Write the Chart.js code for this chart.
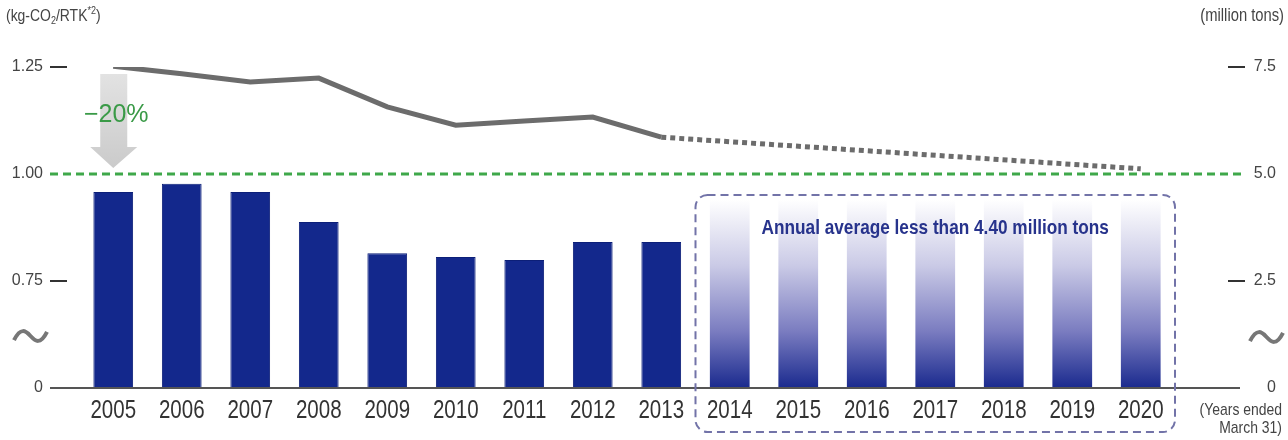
<!DOCTYPE html>
<html>
<head>
<meta charset="utf-8">
<script src="https://cdn.jsdelivr.net/npm/chart.js@4.4.1/dist/chart.umd.min.js"></script>
<style>
  html, body { margin: 0; padding: 0; background: #fff; }
  #wrap { width: 1288px; height: 440px; }
</style>
</head>
<body>
<div id="wrap"><canvas id="myChart" width="1288" height="440"></canvas></div>
<script>
// data
const years = ['2005', '2006', '2007', '2008', '2009', '2010', '2011', '2012', '2013',
               '2014', '2015', '2016', '2017', '2018', '2019', '2020'];
// CO2 emissions, million tons (right axis), years ended March 31
const actualTons = [4.58, 4.77, 4.58, 3.88, 3.15, 3.06, 2.99, 3.41, 3.41];
const targetTons = [4.40, 4.40, 4.40, 4.40, 4.40, 4.40, 4.40];   // 2014-2020
// kg-CO2/RTK (left axis, broken below 0.75)
const intensity = [1.252, 1.234, 1.215, 1.224, 1.157, 1.114, 1.124, 1.133, 1.086];
const intensityGoal2020 = 1.012;
const leftTicks = [0.5, 0.75, 1.0, 1.25];   // 0.5 sits where the broken axis says "0"
const rightTicks = [0, 2.5, 5.0, 7.5];

const NAVY = '#13288c';
const SANS = "'Liberation Sans', Arial, sans-serif";
const SQUEEZE = 0.82;   // the original uses a condensed face

const futureBars = Array(actualTons.length).fill(null).concat(targetTons);
const outlook = Array(years.length).fill(null);
outlook[actualTons.length - 1] = intensity[intensity.length - 1];
outlook[years.length - 1] = intensityGoal2020;

function fadeGradient(context) {
  const chart = context.chart;
  const area = chart.chartArea;
  if (!area) return NAVY;
  const top = chart.scales.yR.getPixelForValue(targetTons[0]);
  const g = chart.ctx.createLinearGradient(0, top, 0, area.bottom);
  g.addColorStop(0, '#ffffff');
  g.addColorStop(0.35, '#cacae6');
  g.addColorStop(0.7, '#7a7cc0');
  g.addColorStop(1, '#1a2a8e');
  return g;
}

function tilde(ctx, x, y, w, h) {
  ctx.beginPath();
  ctx.moveTo(x, y + h * 0.35);
  ctx.bezierCurveTo(x + w * 0.2, y - h * 0.75, x + w * 0.35, y - h * 0.45, x + w * 0.5, y);
  ctx.bezierCurveTo(x + w * 0.65, y + h * 0.45, x + w * 0.8, y + h * 0.75, x + w, y - h * 0.35);
  ctx.stroke();
}

// text in a condensed look: squeeze horizontally round the anchor
function narrowText(ctx, text, x, y) {
  ctx.save();
  ctx.translate(x, y);
  ctx.scale(SQUEEZE, 1);
  ctx.fillText(text, 0, 0);
  ctx.restore();
}

const decor = {
  id: 'decor',
  beforeDatasetsDraw(chart) {
    const { ctx, scales } = chart;
    const x0 = scales.x.getPixelForValue(0);
    const yTop = scales.yL.getPixelForValue(1.25);
    const yOne = scales.yL.getPixelForValue(1.0);
    ctx.save();
    // grey -20% arrow
    const ag = ctx.createLinearGradient(0, yTop, 0, yOne);
    ag.addColorStop(0, '#e4e4e4');
    ag.addColorStop(1, '#c9c9c9');
    ctx.fillStyle = ag;
    ctx.beginPath();
    ctx.moveTo(x0 - 13, yTop + 7);
    ctx.lineTo(x0 + 14, yTop + 7);
    ctx.lineTo(x0 + 14, yOne - 27);
    ctx.lineTo(x0 + 24, yOne - 27);
    ctx.lineTo(x0, yOne - 6);
    ctx.lineTo(x0 - 23, yOne - 27);
    ctx.lineTo(x0 - 13, yOne - 27);
    ctx.closePath();
    ctx.fill();
    // green dashed 1.00 line
    ctx.strokeStyle = '#3fa84a';
    ctx.lineWidth = 3;
    ctx.setLineDash([8, 5]);
    ctx.beginPath();
    ctx.moveTo(50, yOne);
    ctx.lineTo(1242, yOne);
    ctx.stroke();
    ctx.restore();
  },
  afterDatasetsDraw(chart) {
    const { ctx, scales, chartArea } = chart;
    const yZero = scales.yR.getPixelForValue(0);
    ctx.save();
    // baseline
    ctx.strokeStyle = '#555';
    ctx.lineWidth = 2;
    ctx.beginPath();
    ctx.moveTo(50, yZero);
    ctx.lineTo(1240, yZero);
    ctx.stroke();
    // tick dashes
    ctx.strokeStyle = '#333';
    ctx.lineWidth = 2;
    [1.25, 0.75].forEach(v => {
      const y = scales.yL.getPixelForValue(v);
      ctx.beginPath(); ctx.moveTo(50, y); ctx.lineTo(67, y); ctx.stroke();
    });
    [7.5, 2.5].forEach(v => {
      const y = scales.yR.getPixelForValue(v);
      ctx.beginPath(); ctx.moveTo(1228, y); ctx.lineTo(1245, y); ctx.stroke();
    });
    // axis break marks
    ctx.strokeStyle = '#777';
    ctx.lineWidth = 4;
    tilde(ctx, 14, 336, 33, 12);
    tilde(ctx, 1250, 337, 33, 12);
    // year labels, placed by the category scale
    ctx.fillStyle = '#333';
    ctx.font = '25px ' + SANS;
    ctx.textAlign = 'center';
    ctx.textBaseline = 'alphabetic';
    years.forEach((yr, i) => narrowText(ctx, yr, scales.x.getPixelForValue(i), yZero + 30));
    // -20% label
    ctx.fillStyle = '#3a9a47';
    ctx.font = '25px ' + SANS;
    ctx.textBaseline = 'middle';
    ctx.fillText('\u221220%', scales.x.getPixelForValue(0) + 3, 115);
    // dashed box round the targets
    const bx0 = (scales.x.getPixelForValue(actualTons.length - 1) + scales.x.getPixelForValue(actualTons.length)) / 2;
    const bx1 = chartArea.right;
    const by0 = 195, by1 = 432;
    ctx.strokeStyle = '#7273a8';
    ctx.lineWidth = 2;
    ctx.setLineDash([8, 5]);
    ctx.beginPath();
    ctx.roundRect(bx0, by0, bx1 - bx0, by1 - by0, 12);
    ctx.stroke();
    ctx.setLineDash([]);
    ctx.fillStyle = '#27338c';
    ctx.font = 'bold 21px ' + SANS;
    narrowText(ctx, 'Annual average less than 4.40 million tons', (bx0 + bx1) / 2, 228);
    // unit titles
    ctx.fillStyle = '#444';
    ctx.textAlign = 'left';
    let x = 6;
    const parts = [['(kg-CO', 0], ['2', 1], ['/RTK', 0], ['*2', -1], [')', 0]];
    parts.forEach(([t, s]) => {
      ctx.font = (s ? '11px ' : '17px ') + SANS;
      narrowText(ctx, t, x, 16 + s * 5);
      x += ctx.measureText(t).width * SQUEEZE;
    });
    ctx.font = '18px ' + SANS;
    ctx.textAlign = 'right';
    narrowText(ctx, '(million tons)', 1284, 16);
    ctx.font = '17px ' + SANS;
    narrowText(ctx, '(Years ended', 1282, 410);
    narrowText(ctx, 'March 31)', 1282, 428);
    ctx.restore();
  }
};

new Chart(document.getElementById('myChart'), {
  data: {
    labels: years,
    datasets: [
      {
        type: 'line',
        data: intensity,
        yAxisID: 'yL',
        borderColor: '#6c6c6c',
        borderWidth: 5,
        pointRadius: 0,
        tension: 0,
        order: 0
      },
      {
        type: 'line',
        data: outlook,
        yAxisID: 'yL',
        spanGaps: true,
        borderColor: '#6c6c6c',
        borderWidth: 5,
        borderDash: [5, 4],
        pointRadius: 0,
        order: 0
      },
      {
        type: 'bar',
        data: actualTons,
        yAxisID: 'yR',
        backgroundColor: NAVY,
        borderColor: '#0c1f78',
        borderWidth: 1,
        categoryPercentage: 1,
        barPercentage: 0.58,
        grouped: false,
        order: 1
      },
      {
        type: 'bar',
        data: futureBars,
        yAxisID: 'yR',
        backgroundColor: fadeGradient,
        categoryPercentage: 1,
        barPercentage: 0.58,
        grouped: false,
        order: 1
      }
    ]
  },
  options: {
    responsive: false,
    animation: false,
    layout: { padding: { left: 9, right: 12, top: 67, bottom: 12 } },
    plugins: { legend: { display: false }, tooltip: { enabled: false } },
    scales: {
      x: {
        grid: { display: false, drawTicks: false },
        border: { display: false },
        ticks: { display: false },
        afterFit: s => { s.height = 40; }
      },
      yL: {
        position: 'left',
        min: 0.5,
        max: 1.25,
        grid: { display: false, drawTicks: false },
        border: { display: false },
        afterBuildTicks: s => { s.ticks = leftTicks.map(v => ({ value: v })); },
        ticks: {
          color: '#444',
          font: { family: SANS, size: 16 },
          padding: 36,
          callback: v => (v === 0.5 ? '0' : v.toFixed(2))
        },
        afterFit: s => { s.width = 70; }
      },
      yR: {
        position: 'right',
        min: 0,
        max: 7.5,
        grid: { display: false, drawTicks: false },
        border: { display: false },
        afterBuildTicks: s => { s.ticks = rightTicks.map(v => ({ value: v })); },
        ticks: {
          color: '#444',
          font: { family: SANS, size: 16 },
          crossAlign: 'far',
          callback: v => (v === 0 ? '0' : v.toFixed(1))
        },
        afterFit: s => { s.width = 101; }
      }
    }
  },
  plugins: [decor]
});
</script>
</body>
</html>
